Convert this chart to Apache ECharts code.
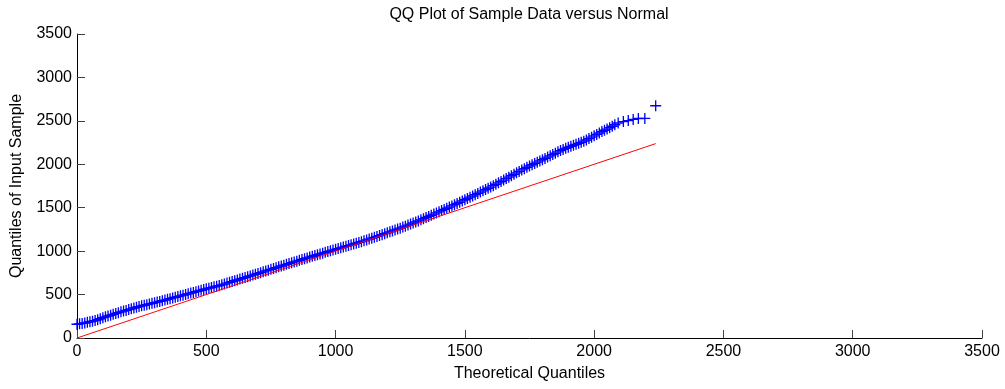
<!DOCTYPE html>
<html>
<head>
<meta charset="utf-8">
<title>QQ Plot</title>
<script src="https://cdn.jsdelivr.net/npm/echarts@6/dist/echarts.min.js"></script>
<style>
    html, body { margin: 0; padding: 0; background: #fff; }
    #qq { width: 1005px; height: 389px; }
</style>
</head>
<body>
<div id="qq"></div>
<script>
// theoretical quantiles (x) and sample quantiles (y)
let qqX = [0, 10, 20, 30, 40, 50, 60, 70, 80, 90,
    100, 110, 120, 130, 140, 150, 160, 170, 180, 190,
    200, 210, 220, 230, 240, 250, 260, 270, 280, 290,
    300, 310, 320, 330, 340, 350, 360, 370, 380, 390,
    400, 410, 420, 430, 440, 450, 460, 470, 480, 490,
    500, 510, 520, 530, 540, 550, 560, 570, 580, 590,
    600, 610, 620, 630, 640, 650, 660, 670, 680, 690,
    700, 710, 720, 730, 740, 750, 760, 770, 780, 790,
    800, 810, 820, 830, 840, 850, 860, 870, 880, 890,
    900, 910, 920, 930, 940, 950, 960, 970, 980, 990,
    1000, 1010, 1020, 1030, 1040, 1050, 1060, 1070, 1080, 1090,
    1100, 1110, 1120, 1130, 1140, 1150, 1160, 1170, 1180, 1190,
    1200, 1210, 1220, 1230, 1240, 1250, 1260, 1270, 1280, 1290,
    1300, 1310, 1320, 1330, 1340, 1350, 1360, 1370, 1380, 1390,
    1400, 1410, 1420, 1430, 1440, 1450, 1460, 1470, 1480, 1490,
    1500, 1510, 1520, 1530, 1540, 1550, 1560, 1570, 1580, 1590,
    1600, 1610, 1620, 1630, 1640, 1650, 1660, 1670, 1680, 1690,
    1700, 1710, 1720, 1730, 1740, 1750, 1760, 1770, 1780, 1790,
    1800, 1810, 1820, 1830, 1840, 1850, 1860, 1870, 1880, 1890,
    1900, 1910, 1920, 1930, 1940, 1950, 1960, 1970, 1980, 1990,
    2000, 2010, 2020, 2030, 2040, 2050, 2060, 2070, 2080,
    2093, 2113, 2132, 2151, 2171, 2196, 2238];
let qqY = [158, 163, 168, 173, 180, 187, 194, 201, 210, 222,
    234, 244, 253, 262, 273, 283, 292, 301, 310, 318,
    327, 336, 345, 354, 362, 370, 377, 384, 392, 399,
    407, 414, 421, 429, 437, 445, 453, 461, 469, 477,
    485, 493, 501, 509, 517, 525, 533, 541, 549, 558,
    566, 574, 581, 589, 597, 604, 612, 621, 632, 641,
    650, 659, 668, 678, 687, 696, 706, 715, 724, 734,
    743, 752, 762, 772, 781, 791, 800, 809, 819, 829,
    838, 848, 857, 866, 876, 885, 894, 904, 913, 922,
    932, 941, 950, 959, 968, 977, 986, 995, 1004, 1012,
    1021, 1030, 1038, 1047, 1056, 1064, 1073, 1082, 1091, 1100,
    1109, 1119, 1129, 1139, 1149, 1159, 1169, 1179, 1190, 1201,
    1211, 1222, 1233, 1244, 1254, 1265, 1277, 1288, 1300, 1312,
    1324, 1336, 1348, 1361, 1374, 1387, 1400, 1413, 1427, 1440,
    1453, 1467, 1480, 1494, 1507, 1521, 1535, 1549, 1563, 1578,
    1592, 1606, 1621, 1635, 1650, 1665, 1680, 1694, 1709, 1724,
    1738, 1754, 1770, 1786, 1802, 1818, 1835, 1852, 1868, 1885,
    1902, 1918, 1935, 1950, 1965, 1980, 1995, 2010, 2024, 2039,
    2053, 2068, 2083, 2097, 2112, 2127, 2143, 2158, 2171, 2184,
    2196, 2207, 2219, 2230, 2241, 2253, 2266, 2280, 2296, 2312,
    2328, 2344, 2360, 2377, 2392, 2405, 2421, 2438, 2455,
    2475, 2492, 2503, 2517, 2527, 2528, 2674];

// red reference line end points
let refX = [0, 2238];
let refY = [0, 2238];

let axisTicks = [0, 500, 1000, 1500, 2000, 2500, 3000, 3500];

let font = "'Liberation Sans', Arial, sans-serif";
let plusMark = 'path://M4.4,0H5.6V4.4H10V5.6H5.6V10H4.4V5.6H0V4.4H4.4Z';

let qqData = qqX.map(function (x, i) { return [x, qqY[i]]; });
let refData = refX.map(function (x, i) { return [x, refY[i]]; });

function plainNumber(v) {
    return String(v);
}

let myChart = echarts.init(document.getElementById("qq"));
let option = {
    backgroundColor: "#ffffff",
    animation: false,
    title: {
        text: 'QQ Plot of Sample Data versus Normal',
        left: 529,
        textAlign: 'center',
        top: 7,
        padding: 0,
        textStyle: {
            fontFamily: font,
            fontSize: 16,
            fontWeight: 'normal',
            color: '#000000'
        }
    },
    grid: {
        left: 77,
        right: 23,
        top: 34,
        bottom: 51,
        containLabel: false,
        outerBoundsMode: 'none'
    },
    xAxis: {
        type: 'value',
        min: axisTicks[0],
        max: axisTicks[axisTicks.length - 1],
        interval: 500,
        name: 'Theoretical Quantiles',
        nameLocation: 'middle',
        nameGap: 28,
        nameTextStyle: { fontFamily: font, fontSize: 16, color: '#000000' },
        splitLine: { show: false },
        axisLine: { show: true, lineStyle: { color: '#000000', width: 1 } },
        axisTick: { show: true, inside: true, length: 8, lineStyle: { color: '#404040' } },
        axisLabel: { margin: 6, fontFamily: font, fontSize: 16, color: '#000000', formatter: plainNumber }
    },
    yAxis: {
        type: 'value',
        min: axisTicks[0],
        max: axisTicks[axisTicks.length - 1],
        interval: 500,
        name: 'Quantiles of Input Sample',
        nameLocation: 'middle',
        nameGap: 52,
        nameTextStyle: { fontFamily: font, fontSize: 16, color: '#000000' },
        splitLine: { show: false },
        axisLine: { show: true, lineStyle: { color: '#000000', width: 1 } },
        axisTick: { show: true, inside: true, length: 8, lineStyle: { color: '#404040' } },
        axisLabel: { margin: 5, fontFamily: font, fontSize: 16, color: '#000000', formatter: plainNumber }
    },
    series: [{
        name: 'sample',
        type: 'scatter',
        symbol: plusMark,
        symbolSize: 11,
        itemStyle: { color: '#0000ff', opacity: 1 },
        data: qqData
    }, {
        name: 'reference',
        type: 'line',
        showSymbol: false,
        lineStyle: { color: '#ff0000', width: 1 },
        data: refData
    }]
};
myChart.setOption(option);
</script>
</body>
</html>
